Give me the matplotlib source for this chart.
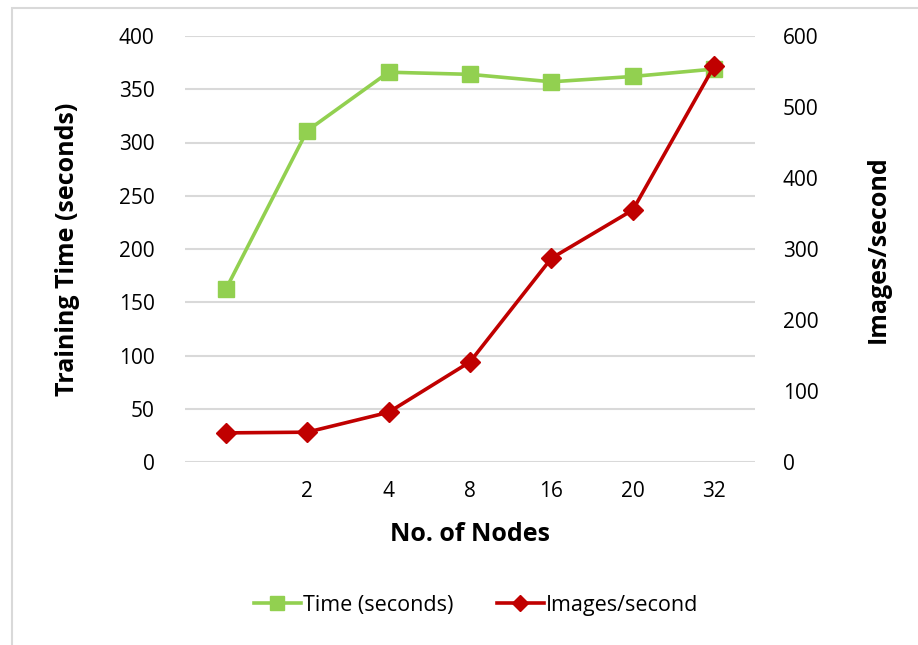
import matplotlib.pyplot as plt
from matplotlib.lines import Line2D
from matplotlib.patches import Rectangle

plt.rcParams['font.family'] = ['Open Sans', 'DejaVu Sans']

# training runs per cluster size
nodes = ['', '2', '4', '8', '16', '20', '32']
time_sec = [162, 311, 366, 364, 357, 362, 369]
images_per_sec = [41, 42, 70, 141, 287, 355, 558]

green = '#92d050'
red = '#c00000'
grid_col = '#d9d9d9'

fig = plt.figure(figsize=(9.18, 6.45), dpi=100)

# outer chart frame
fig.patches.append(Rectangle((12 / 918, -0.05), 1.0, 1 - 8 / 645 + 0.05,
                             transform=fig.transFigure, fill=False,
                             edgecolor=grid_col, linewidth=1.5))

ax = fig.add_axes([185 / 918, 1 - 462 / 645, 570 / 918, 426 / 645])
ax2 = ax.twinx()

x = list(range(len(nodes)))
ax.plot(x, time_sec, color=green, linewidth=2.6, marker='s', markersize=11,
        zorder=3, clip_on=False)
ax2.plot(x, images_per_sec, color=red, linewidth=2.6, marker='D', markersize=10,
         zorder=3, clip_on=False)

ax.set_xlim(-0.5, len(nodes) - 0.5)
ax.set_ylim(0, 400)
ax.set_yticks(range(0, 401, 50))
ax2.set_ylim(0, 600)
ax2.set_yticks(range(0, 601, 100))
ax.set_xticks(x)
ax.set_xticklabels(nodes)

ax.grid(axis='y', color=grid_col, linewidth=1.5)
ax.set_axisbelow(True)
for a in (ax, ax2):
    for s in a.spines.values():
        s.set_visible(False)
    a.tick_params(length=0, labelsize=15, colors='black')
ax.tick_params(axis='y', pad=22)
ax.tick_params(axis='x', pad=14)
ax2.tick_params(axis='y', pad=20)

ax.set_xlabel('No. of Nodes', fontsize=18, fontweight='bold', labelpad=14)
ax.set_ylabel('Training Time (seconds)', fontsize=18, fontweight='bold',
              labelpad=28)
ax2.set_ylabel('Images/second', fontsize=18, fontweight='bold', rotation=90,
               labelpad=34)
ax2.yaxis.set_label_position('right')

handles = [
    Line2D([], [], color=green, linewidth=2.6, marker='s', markersize=10),
    Line2D([], [], color=red, linewidth=2.6, marker='D', markersize=8),
]
fig.legend(handles, ['Time (seconds)', 'Images/second'], loc='center',
           bbox_to_anchor=(476 / 918, 1 - 605 / 645), ncol=2, frameon=False,
           fontsize=15.5, handlelength=2.2, handletextpad=0.1, columnspacing=2.0)

fig.savefig('out.png', dpi=100)
